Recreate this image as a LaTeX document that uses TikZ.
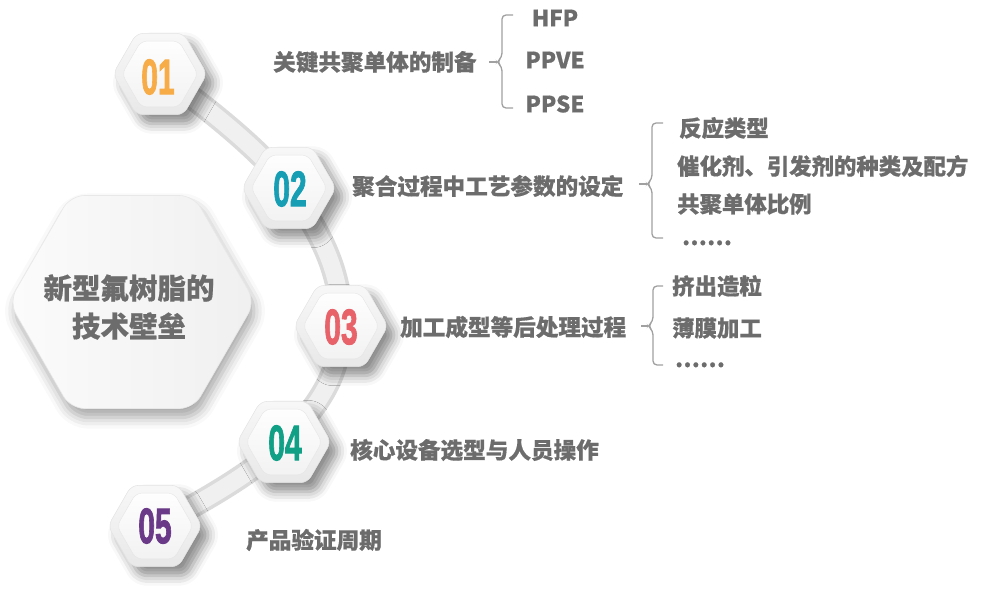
\documentclass[tikz,border=0pt]{standalone}
\usepackage{fontspec}
\usepackage{graphicx}
\setmainfont{Noto Sans CJK SC}[BoldFeatures={FakeBold=0.6}]
\newfontfamily\numfont{Liberation Sans}[BoldFeatures={FakeBold=2}]
\usetikzlibrary{shapes.geometric,shadows.blur}
\definecolor{txt}{RGB}{108,108,108}
\definecolor{brc}{RGB}{160,160,160}
\definecolor{cone}{RGB}{247,172,72}
\definecolor{ctwo}{RGB}{22,158,180}
\definecolor{cthree}{RGB}{232,98,106}
\definecolor{cfour}{RGB}{16,160,134}
\definecolor{cfive}{RGB}{106,58,136}
\newcommand{\dotsix}{.\hspace{0.5pt}.\hspace{0.5pt}.\hspace{0.5pt}.\hspace{0.5pt}.\hspace{0.5pt}.}
\tikzset{
  hexbig/.style={regular polygon, regular polygon sides=6, minimum size=246pt, inner sep=0pt,
    rounded corners=14pt, left color=gray!3, right color=gray!12, draw=gray!18, line width=0.6pt,
    blur shadow={shadow xshift=3pt, shadow yshift=-9pt, shadow blur radius=11pt, shadow opacity=35}},
  hexout/.style={regular polygon, regular polygon sides=6, minimum size=94pt, inner sep=0pt,
    rounded corners=7pt, top color=gray!6, bottom color=gray!18, draw=gray!22, line width=0.5pt,
    blur shadow={shadow xshift=8pt, shadow yshift=-9pt, shadow blur radius=10pt, shadow opacity=45}},
  hexin/.style={regular polygon, regular polygon sides=6, minimum size=76pt, inner sep=0pt,
    rounded corners=6pt, top color=gray!1, bottom color=gray!10, draw=gray!20, line width=0.4pt},
  numtxt/.style={font=\numfont\bfseries\fontsize{50pt}{50pt}\selectfont, inner sep=0pt},
  lab/.style={font=\bfseries\fontsize{22.6pt}{26pt}\selectfont, text=txt, inner sep=0pt, anchor=west},
  sub/.style={font=\bfseries\fontsize{22.4pt}{26pt}\selectfont, text=txt, inner sep=0pt, anchor=west},
  bracket/.style={draw=brc, line width=1.3pt, rounded corners=4pt},
}
\begin{document}
\begin{tikzpicture}[x=1pt,y=-1pt]
\useasboundingbox (0,0) rectangle (987,610);
% central hexagon
\node[hexbig] (core) at (132,302) {};
\node[font=\bfseries\fontsize{28.5pt}{38pt}\selectfont, text=txt, align=center, inner sep=0pt] (coret) at (129,307) {新型氟树脂的\\技术壁垒};
% band
\coordinate (p1) at (160,74);
\coordinate (p2) at (289,188);
\coordinate (p3) at (341,326);
\coordinate (p4) at (284,442);
\coordinate (p5) at (155,526);
\draw[line width=24pt, gray!28, line cap=round] plot[smooth, tension=0.7] coordinates {(p1) (p2) (p3) (p4) (p5)};
\draw[line width=17pt, gray!12] plot[smooth, tension=0.7] coordinates {(p1) (p2) (p3) (p4) (p5)};
% small hexagons
\node[hexout] (h1) at (p1) {}; \node[hexin] (h1i) at (h1) {};
\node[hexout] (h2) at (p2) {}; \node[hexin] (h2i) at (h2) {};
\node[hexout] (h3) at (p3) {}; \node[hexin] (h3i) at (h3) {};
\node[hexout] (h4) at (p4) {}; \node[hexin] (h4i) at (h4) {};
\node[hexout] (h5) at (p5) {}; \node[hexin] (h5i) at (h5) {};
\node[numtxt, text=cone] (n1) at (158,77) {\scalebox{0.6}[1]{01}};
\node[numtxt, text=ctwo] (n2) at (290,189) {\scalebox{0.6}[1]{02}};
\node[numtxt, text=cthree] (n3) at (341,327) {\scalebox{0.6}[1]{03}};
\node[numtxt, text=cfour] (n4) at (285,443) {\scalebox{0.6}[1]{04}};
\node[numtxt, text=cfive] (n5) at (155,526) {\scalebox{0.6}[1]{05}};
% labels
\node[lab] (l1) at (273,62) {关键共聚单体的制备};
\node[lab] (l2) at (352,186) {聚合过程中工艺参数的设定};
\node[lab] (l3) at (400,327) {加工成型等后处理过程};
\node[lab] (l4) at (350,450) {核心设备选型与人员操作};
\node[lab] (l5) at (246,540) {产品验证周期};
% group 1
\node[sub, anchor=center] (a1) at (555,18) {HFP};
\node[sub, anchor=center] (a2) at (555,60) {PPVE};
\node[sub, anchor=center] (a3) at (555,104) {PPSE};
\draw[bracket] (513,15) -- (502,15) -- (502,57) -- (497,62) -- (502,67) -- (502,108) -- (513,108);
\draw[bracket, rounded corners=0pt] (497,62) -- (489,62);
% group 2
\node[sub] (b1) at (679,128) {反应类型};
\node[sub] (b2) at (677,166) {催化剂、引发剂的种类及配方};
\node[sub] (b3) at (677,204) {共聚单体比例};
\node[sub, anchor=base west] (b4) at (682,245) {\dotsix};
\draw[bracket] (663,123) -- (652,123) -- (652,179) -- (647,184) -- (652,189) -- (652,238) -- (663,238);
\draw[bracket, rounded corners=0pt] (647,184) -- (639,184);
% group 3
\node[sub] (c1) at (672,286) {挤出造粒};
\node[sub] (c2) at (672,328) {薄膜加工};
\node[sub, anchor=base west] (c3) at (675,367) {\dotsix};
\draw[bracket] (663,286) -- (653,286) -- (653,321) -- (648,326) -- (653,331) -- (653,365) -- (663,365);
\draw[bracket, rounded corners=0pt] (648,326) -- (641,326);
\end{tikzpicture}
\end{document}
